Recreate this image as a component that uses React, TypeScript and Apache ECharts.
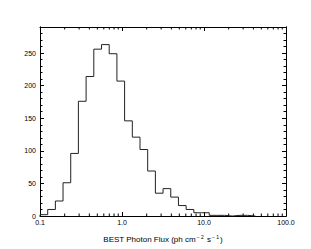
import React, { useEffect, useRef } from "react";
import * as echarts from "echarts";

// Histogram bin edges (photon flux) and counts per bin
const binEdges = [
  0.1, 0.1241, 0.154, 0.191, 0.237, 0.294, 0.365, 0.453, 0.563, 0.698,
  0.867, 1.076, 1.336, 1.658, 2.057, 2.553, 3.168, 3.932, 4.88, 6.056,
  7.516, 9.328, 11.58, 14.37, 17.83, 22.13, 27.47, 34.09, 42.31,
];
const binCounts = [
  2, 10, 23, 51, 96, 176, 214, 256, 263, 249, 207, 146, 121, 102, 69, 35,
  42, 29, 16, 10, 5, 5, 1, 1, 0, 1, 1, 0,
];
const xMajorTicks = [0.1, 1, 10, 100];
const xMinorTicks = [
  0.2, 0.3, 0.4, 0.5, 0.6, 0.7, 0.8, 0.9,
  2, 3, 4, 5, 6, 7, 8, 9,
  20, 30, 40, 50, 60, 70, 80, 90,
];
const yLabels = [0, 50, 100, 150, 200, 250];
const yMax = 290;

const FONT = "Liberation Sans, Arial, Helvetica, sans-serif";
const INK = "#000000";

export default function App() {
  const ref = useRef<HTMLDivElement>(null);

  useEffect(() => {
    document.body.style.margin = "0";
    document.body.style.background = "#fff";
    if (!ref.current) return;
    const chart = echarts.init(ref.current, undefined, { renderer: "svg" });

    const stepData: number[][] = [[binEdges[0], 0]];
    for (let i = 0; i < binCounts.length; i++) {
      stepData.push([binEdges[i], binCounts[i]]);
    }
    stepData.push([binEdges[binCounts.length], 0]);

    const xCommon = {
      type: "log" as const,
      logBase: 10,
      min: xMajorTicks[0],
      max: xMajorTicks[xMajorTicks.length - 1],
      splitLine: { show: false },
      axisLine: { show: true, onZero: false, lineStyle: { color: INK, width: 1 } },
      axisTick: { show: true, inside: true, length: 4, lineStyle: { color: INK } },
    };

    const yCommon = (pos: "left" | "right", interval: number, len: number, labels: boolean) => ({
      type: "value" as const,
      position: pos,
      min: 0,
      max: yMax,
      interval,
      splitLine: { show: false },
      axisLine: { show: true, onZero: false, lineStyle: { color: INK, width: 1 } },
      axisTick: { show: true, inside: true, length: len, lineStyle: { color: INK } },
      axisLabel: labels
        ? {
            show: true,
            fontSize: 7,
            fontFamily: FONT,
            color: INK,
            margin: 4,
            formatter: (v: number) => (yLabels.indexOf(Math.round(v)) >= 0 && Math.abs(v - Math.round(v)) < 1e-6 ? String(Math.round(v)) : ""),
          }
        : { show: false },
    });

    chart.setOption({
      animation: false,
      backgroundColor: "#ffffff",
      textStyle: { color: INK, fontFamily: FONT },
      grid: { left: 40, right: 25, top: 27, bottom: 33, containLabel: false },
      xAxis: [
        {
          ...xCommon,
          position: "bottom",
          name: "{t|BEST Photon Flux (ph cm}{s|− 2}{t| s}{s|− 1}{t|)}",
          nameLocation: "middle",
          nameGap: 18,
          nameTextStyle: {
            color: INK,
            rich: {
              t: { fontSize: 8, fontFamily: FONT, color: INK, lineHeight: 11 },
              s: { fontSize: 5, fontFamily: FONT, color: INK, verticalAlign: "top", padding: [0, 1, 0, 1] },
            },
          },
          axisLabel: {
            show: true,
            fontSize: 7,
            fontFamily: FONT,
            color: INK,
            margin: 3,
            formatter: (v: number) => Number(v).toFixed(1),
          },
        },
        { ...xCommon, position: "top", axisLabel: { show: false } },
      ],
      yAxis: [
        yCommon("left", 10, 2.5, true),
        yCommon("left", 50, 4, false),
        yCommon("right", 10, 2.5, false),
        yCommon("right", 50, 4, false),
      ],
      series: [
        {
          type: "line",
          xAxisIndex: 0,
          yAxisIndex: 0,
          data: stepData,
          step: "end",
          showSymbol: false,
          symbol: "none",
          lineStyle: { color: "#222222", width: 1 },
          silent: true,
        },
        {
          type: "custom",
          xAxisIndex: 0,
          yAxisIndex: 0,
          data: xMinorTicks.map((v) => [v, 0]),
          encode: { x: 0, y: 1 },
          clip: false,
          silent: true,
          renderItem: (params: any, api: any) => {
            const x = api.value(0);
            const b = api.coord([x, 0]);
            const t = api.coord([x, yMax]);
            return {
              type: "group",
              children: [
                { type: "line", shape: { x1: b[0], y1: b[1], x2: b[0], y2: b[1] - 2.5 }, style: { stroke: INK, lineWidth: 1 } },
                { type: "line", shape: { x1: t[0], y1: t[1], x2: t[0], y2: t[1] + 2.5 }, style: { stroke: INK, lineWidth: 1 } },
              ],
            };
          },
        },
      ],
    });

    return () => chart.dispose();
  }, []);

  return <div ref={ref} style={{ width: 311, height: 249, background: "#fff" }} />;
}
